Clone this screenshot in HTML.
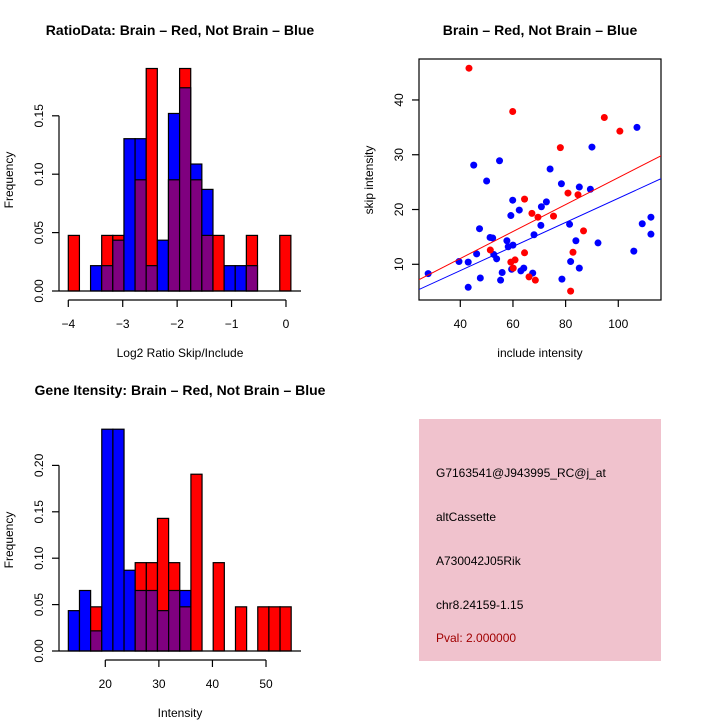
<!DOCTYPE html>
<html><head><meta charset="utf-8"><style>
html,body{margin:0;padding:0;background:#fff;}
svg{display:block;font-family:"Liberation Sans",sans-serif;}
</style></head><body>
<svg id="s" width="720" height="720" viewBox="0 0 720 720">
<rect width="720" height="720" fill="#fff"/>
<g id="h1"></g>
<g id="sc"></g>
<g id="h2"></g>
<g>
<rect x="419" y="419" width="242" height="242" fill="#f0c2cd"/>
<text x="436" y="477" font-size="12" fill="#000">G7163541@J943995_RC@j_at</text>
<text x="436" y="521" font-size="12" fill="#000">altCassette</text>
<text x="436" y="565" font-size="12" fill="#000">A730042J05Rik</text>
<text x="436" y="609" font-size="12" fill="#000">chr8.24159-1.15</text>
<text x="436" y="642" font-size="12" fill="#a00000">Pval: 2.000000</text>
</g>
</svg>
<script>
// Ratio histogram data
const ratioBinStart = -4.0;
const ratioBinWidth = 0.2045;
const ratioRed  = [0.0476,0,0,0.0476,0.0476,0,0.0952,0.1905,0,0.0952,0.1905,0.0952,0.0476,0.0476,0,0,0.0476,0,0,0.0476];
const ratioBlue = [0,0,0.0217,0.0217,0.0435,0.1304,0.1304,0.0217,0.0435,0.152,0.174,0.1087,0.087,0,0.0217,0.0217,0.0217,0,0,0];
const ratioXTicks = [-4,-3,-2,-1,0];
const ratioYTicks = [0,0.05,0.10,0.15];
const ratioYLabels = ["0.00","0.05","0.10","0.15"];
// Intensity histogram data
const intBinStart = 13.1;
const intBinWidth = 2.08;
const intRed  = [0,0,0.0476,0,0,0,0.0952,0.0952,0.1429,0.0952,0.0476,0.1905,0,0.0952,0,0.0476,0,0.0476,0.0476,0.0476];
const intBlue = [0.0435,0.0652,0.0217,0.239,0.239,0.087,0.0652,0.0652,0.0435,0.0652,0.0652,0,0,0,0,0,0,0,0,0];
const intXTicks = [20,30,40,50];
const intYTicks = [0,0.05,0.10,0.15,0.20];
const intYLabels = ["0.00","0.05","0.10","0.15","0.20"];
// Scatter data
const redX = [43.3,59.9,94.7,100.6,78.0,80.9,84.7,64.4,67.2,69.5,75.4,86.8,51.4,64.4,82.8,59.2,60.8,60.1,66.1,68.5,81.9];
const redY = [45.8,37.9,36.8,34.3,31.3,23.0,22.7,21.9,19.3,18.6,18.8,16.1,12.6,12.1,12.2,10.4,10.8,9.3,7.7,7.1,5.1];
const blueX = [27.8,39.5,43.0,43.0,45.1,46.2,47.3,47.6,50.0,51.3,52.3,52.7,53.8,54.9,55.3,55.9,57.7,58.2,59.2,59.5,59.9,60.0,62.4,63.0,64.1,68.0,67.5,70.6,70.8,72.7,74.1,78.4,78.6,81.5,81.9,83.9,85.2,85.2,89.4,90.0,92.3,105.9,107.1,109.1,112.4,112.4];
const blueY = [8.3,10.5,10.4,5.8,28.1,11.9,16.5,7.5,25.2,14.9,14.8,11.8,11.0,28.9,7.1,8.5,14.3,13.2,18.9,9.1,21.7,13.5,19.9,8.8,9.3,15.4,8.4,17.1,20.5,21.4,27.4,24.7,7.3,17.3,10.5,14.3,24.1,9.3,23.7,31.4,13.9,12.4,35.0,17.4,18.6,15.5];
const redFit = [1.22,0.246];
const blueFit = [0.05,0.220];
const scXTicks = [40,60,80,100];
const scYTicks = [10,20,30,40];

const NS="http://www.w3.org/2000/svg";
function mk(parent,tag,attrs,txt){const e=document.createElementNS(NS,tag);for(const k in attrs)e.setAttribute(k,attrs[k]);if(txt!==undefined)e.textContent=txt;parent.appendChild(e);return e;}

function hist(g,o){
  const sx=v=>o.x0+(v-o.xv0)*o.xs, sy=v=>o.y0-v*o.ys;
  const n=o.red.length;
  for(let i=0;i<n;i++){
    const l=sx(o.start+i*o.w), r=sx(o.start+(i+1)*o.w);
    const rv=o.red[i], bv=o.blue[i], mn=Math.min(rv,bv);
    if(rv>0&&rv>=bv){const e=mk(g,'rect',{x:l,y:sy(rv),width:r-l,height:sy(0)-sy(rv),fill:'#ff0000',stroke:'#000','stroke-width':1.2});
      
      }
    if(bv>0&&bv>rv){const e=mk(g,'rect',{x:l,y:sy(bv),width:r-l,height:sy(0)-sy(bv),fill:'#0000ff',stroke:'#000','stroke-width':1.2});
      
      }
    if(mn>0){const e=mk(g,'rect',{x:l,y:sy(mn),width:r-l,height:sy(0)-sy(mn),fill:'#7f007f',stroke:'#000','stroke-width':1.2});
      
      }
  }
  mk(g,'line',{x1:o.axX,x2:o.baseEnd,y1:o.y0,y2:o.y0,stroke:'#000','stroke-width':1.2});
  // y axis
  const ya=mk(g,'g',{});
  
  
  mk(ya,'line',{x1:o.axX,x2:o.axX,y1:sy(o.yt[0]),y2:sy(o.yt[o.yt.length-1]),stroke:'#000','stroke-width':1.2});
  o.yt.forEach((t,i)=>{mk(ya,'line',{x1:o.axX-7,x2:o.axX,y1:sy(t),y2:sy(t),stroke:'#000','stroke-width':1.2});
    const tx=mk(ya,'text',{x:0,y:0,'font-size':12,'text-anchor':'middle',transform:`translate(${o.axX-16},${sy(t)}) rotate(-90)`},o.yl[i]);
    
    });
  // x axis
  const xa=mk(g,'g',{});
  
  
  mk(xa,'line',{x1:sx(o.xt[0]),x2:sx(o.xt[o.xt.length-1]),y1:o.axY,y2:o.axY,stroke:'#000','stroke-width':1.2});
  o.xt.forEach(t=>{mk(xa,'line',{x1:sx(t),x2:sx(t),y1:o.axY,y2:o.axY+7,stroke:'#000','stroke-width':1.2});
    const tx=mk(xa,'text',{x:sx(t),y:o.axY+28,'font-size':12,'text-anchor':'middle'},String(t).replace('-','\u2212'));
    
    });
  const ti=mk(g,'text',{x:180,y:o.titleY,'font-size':14,'font-weight':'bold','text-anchor':'middle'},o.title);
  
  
  const xl=mk(g,'text',{x:180,y:o.xlabY,'font-size':12,'text-anchor':'middle'},o.xlab);
  
  
  const yl=mk(g,'text',{x:0,y:0,'font-size':12,'text-anchor':'middle',transform:`translate(13,${o.ylabY}) rotate(-90)`},'Frequency');
  
  
}

hist(document.getElementById('h1'),{red:ratioRed,blue:ratioBlue,start:ratioBinStart,w:ratioBinWidth,
  x0:68.3,xv0:-4,xs:54.42,y0:291,ys:1168,axX:59,baseEnd:301,axY:300,xt:ratioXTicks,yt:ratioYTicks,yl:ratioYLabels,
  title:'RatioData: Brain \u2013 Red, Not Brain \u2013 Blue',titleY:35,xlab:'Log2 Ratio Skip/Include',xlabY:357,ylabY:180});
hist(document.getElementById('h2'),{red:intRed,blue:intBlue,start:intBinStart,w:intBinWidth,
  x0:105.3,xv0:20,xs:5.357,y0:651,ys:928,axX:59,baseEnd:301,axY:660,xt:intXTicks,yt:intYTicks,yl:intYLabels,
  title:'Gene Itensity: Brain \u2013 Red, Not Brain \u2013 Blue',titleY:395,xlab:'Intensity',xlabY:717,ylabY:540});

// scatter
(function(){
  const g=document.getElementById('sc');
  const L=419,R=661,T=59,B=300;
  const sx=v=>460.3+(v-40)*2.633, sy=v=>264.3-(v-10)*5.478;
  mk(g,'defs',{}).innerHTML='<clipPath id="cp"><rect x="419" y="59" width="242" height="241"/></clipPath>';
  const fr=mk(g,'rect',{x:L,y:T,width:R-L,height:B-T,fill:'none',stroke:'#000','stroke-width':1.2});
  
  
  blueX.forEach((x,i)=>{const c=mk(g,'circle',{cx:sx(x),cy:sy(blueY[i]),r:3.5,fill:'#0000ff'});
    
    });
  redX.forEach((x,i)=>{const c=mk(g,'circle',{cx:sx(x),cy:sy(redY[i]),r:3.5,fill:'#ff0000'});
    
    });
  const xa=20,xb=120;
  const rl=mk(g,'line',{x1:sx(xa),y1:sy(redFit[0]+redFit[1]*xa),x2:sx(xb),y2:sy(redFit[0]+redFit[1]*xb),stroke:'#ff0000','stroke-width':1,'clip-path':'url(#cp)'});
  
  
  const bl=mk(g,'line',{x1:sx(xa),y1:sy(blueFit[0]+blueFit[1]*xa),x2:sx(xb),y2:sy(blueFit[0]+blueFit[1]*xb),stroke:'#0000ff','stroke-width':1,'clip-path':'url(#cp)'});
  
  
  scXTicks.forEach(t=>{mk(g,'line',{x1:sx(t),x2:sx(t),y1:B,y2:B+7,stroke:'#000','stroke-width':1.2});
    const tx=mk(g,'text',{x:sx(t),y:B+28,'font-size':12,'text-anchor':'middle'},String(t));
    
    });
  scYTicks.forEach(t=>{mk(g,'line',{x1:L-7,x2:L,y1:sy(t),y2:sy(t),stroke:'#000','stroke-width':1.2});
    const tx=mk(g,'text',{x:0,y:0,'font-size':12,'text-anchor':'middle',transform:`translate(${L-16},${sy(t)}) rotate(-90)`},String(t));
    
    });
  const ti=mk(g,'text',{x:540,y:35,'font-size':14,'font-weight':'bold','text-anchor':'middle'},'Brain \u2013 Red, Not Brain \u2013 Blue');
  
  
  const xl=mk(g,'text',{x:540,y:357,'font-size':12,'text-anchor':'middle'},'include intensity');
  
  
  const yl=mk(g,'text',{x:0,y:0,'font-size':12,'text-anchor':'middle',transform:'translate(373,180) rotate(-90)'},'skip intensity');
  
  
})();
</script>
</body></html>
